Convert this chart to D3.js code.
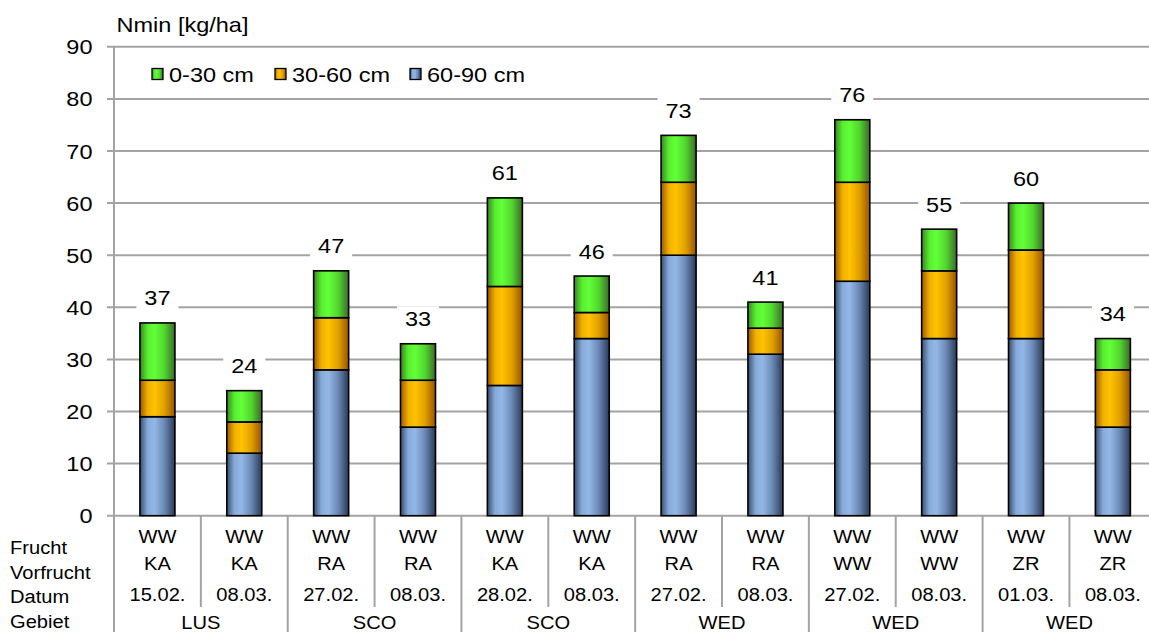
<!DOCTYPE html>
<html>
<head>
<meta charset="utf-8">
<script src="https://cdn.jsdelivr.net/npm/d3@7"></script>
<style>
html,body{margin:0;padding:0;background:#fff;}
svg{display:block;font-family:Arial,"Liberation Sans",sans-serif;}
</style>
</head>
<body>
<svg id="chart" width="1149" height="632"></svg>
<script>
// ---- data ----
const categories = ["1","2","3","4","5","6","7","8","9","10","11","12"];
const frucht     = ["WW","WW","WW","WW","WW","WW","WW","WW","WW","WW","WW","WW"];
const vorfrucht  = ["KA","KA","RA","RA","KA","KA","RA","RA","WW","WW","ZR","ZR"];
const datum      = ["15.02.","08.03.","27.02.","08.03.","28.02.","08.03.","27.02.","08.03.","27.02.","08.03.","01.03.","08.03."];
const gebiet     = ["LUS","SCO","SCO","WED","WED","WED"];
const seriesNames = ["60-90 cm","30-60 cm","0-30 cm"];
const s6090 = [19,12,28,17,25,34,50,31,45,34,34,17];
const s3060 = [7,6,10,9,19,5,14,5,19,13,17,11];
const s030  = [11,6,9,7,17,7,9,5,12,8,9,6];
const yTicks = [0,10,20,30,40,50,60,70,80,90];
const rowLabels = ["Frucht","Vorfrucht","Datum","Gebiet"];
const legendOrder = ["0-30 cm","30-60 cm","60-90 cm"];

// ---- setup ----
const svg = d3.select("#chart");
const SX = 1.12;
const left = 114, right = 1156.3, y0 = 515.7, y90 = 46.8;
const x = d3.scaleBand().domain(categories).range([left, right]).padding(0);
const xb = d3.scaleBand().domain(categories).range([left, right]).paddingInner(0.597).paddingOuter(0.597/2);
const y = d3.scaleLinear().domain([0, 90]).range([y0, y90]);
const gridColor = "#a3a3a3";

function txt(g, tx, ty, s, size, anchor, sx) {
  return g.append("text")
    .attr("transform", `translate(${tx},${ty}) scale(${sx || SX},1)`)
    .attr("font-size", size).attr("text-anchor", anchor || "start")
    .attr("fill", "#000").text(s);
}

// gradients
const defs = svg.append("defs");
const grads = {
  "60-90 cm": [["0%","#384e70"],["22%","#86abd9"],["42%","#94b7e6"],["70%","#6a88b4"],["100%","#2a3a57"]],
  "30-60 cm": [["0%","#9c5800"],["22%","#efb000"],["42%","#ffc300"],["70%","#e0a000"],["100%","#985400"]],
  "0-30 cm":  [["0%","#3a8424"],["22%","#58ee30"],["42%","#62ff38"],["70%","#52d62e"],["100%","#3c6a2a"]]
};
const gid = {"60-90 cm":"gBlue","30-60 cm":"gOrange","0-30 cm":"gGreen"};
Object.keys(grads).forEach(k => {
  const lg = defs.append("linearGradient").attr("id", gid[k]).attr("x1","0").attr("x2","1").attr("y1","0").attr("y2","0");
  grads[k].forEach(([o,c]) => lg.append("stop").attr("offset", o).attr("stop-color", c));
});

// gridlines (with tick extension)
const gGrid = svg.append("g");
gGrid.selectAll("line").data(yTicks).join("line")
  .attr("x1", 107).attr("x2", 1149)
  .attr("y1", d => y(d)).attr("y2", d => y(d))
  .attr("stroke", gridColor).attr("stroke-width", 2);

// y axis line
svg.append("line").attr("x1", left).attr("x2", left).attr("y1", y90).attr("y2", 632)
  .attr("stroke", gridColor).attr("stroke-width", 2);

// y tick labels
const gY = svg.append("g");
yTicks.forEach(t => txt(gY, 92.5, y(t) + 7.5, String(t), 21, "end"));

// title
txt(svg, 116.5, 31.5, "Nmin [kg/ha]", 21, "start");

// stacked bars
const table = categories.map((c, i) => ({cat: c, "60-90 cm": s6090[i], "30-60 cm": s3060[i], "0-30 cm": s030[i]}));
const stack = d3.stack().keys(seriesNames)(table);
const gBars = svg.append("g");
stack.forEach(layer => {
  gBars.selectAll(null).data(layer).join("rect")
    .attr("x", d => xb(d.data.cat))
    .attr("width", xb.bandwidth())
    .attr("y", d => y(d[1]))
    .attr("height", d => y(d[0]) - y(d[1]))
    .attr("fill", `url(#${gid[layer.key]})`)
    .attr("stroke", "#000").attr("stroke-width", 1.6);
});

// value labels
const totals = categories.map((c, i) => s6090[i] + s3060[i] + s030[i]);
const gLab = svg.append("g");
totals.forEach((t, i) => {
  const cx = x(categories[i]) + x.bandwidth() / 2;
  const by = y(t) - 17.5;
  gLab.append("rect").attr("x", cx - 21).attr("y", by - 20).attr("width", 42).attr("height", 26).attr("fill", "#fff");
  txt(gLab, cx, by, String(t), 21, "middle");
});

// legend
const gLeg = svg.append("g");
const legX = [152, 275, 410];
legendOrder.forEach((k, i) => {
  gLeg.append("rect").attr("x", legX[i]).attr("y", 68.5).attr("width", 11).attr("height", 11)
    .attr("fill", `url(#${gid[k]})`).attr("stroke", "#000").attr("stroke-width", 1.3);
  txt(gLeg, legX[i] + 17, 82, k, 21, "start");
});

// category table
const gT = svg.append("g");
const bounds = d3.range(1, categories.length + 1).map(i => left + i * x.step());
bounds.forEach((bx, i) => {
  const full = (i % 2 === 1);
  gT.append("line").attr("x1", bx).attr("x2", bx).attr("y1", y0).attr("y2", full ? 632 : 607)
    .attr("stroke", gridColor).attr("stroke-width", 2);
});
const TS = 19, TSX = 1.06;
categories.forEach((c, i) => {
  const cx = x(c) + x.bandwidth() / 2;
  txt(gT, cx, 543, frucht[i], TS, "middle", TSX);
  txt(gT, cx, 569.5, vorfrucht[i], TS, "middle", TSX);
  txt(gT, cx, 601, datum[i], TS, "middle", TSX);
});
gebiet.forEach((g, j) => {
  const cx = left + (2 * j + 1) * x.step();
  txt(gT, cx, 629, g, TS, "middle", TSX);
});
const rowY = [553.5, 579, 603, 628];
rowLabels.forEach((r, i) => txt(gT, 10, rowY[i], r, TS, "start", TSX));
</script>
</body>
</html>
